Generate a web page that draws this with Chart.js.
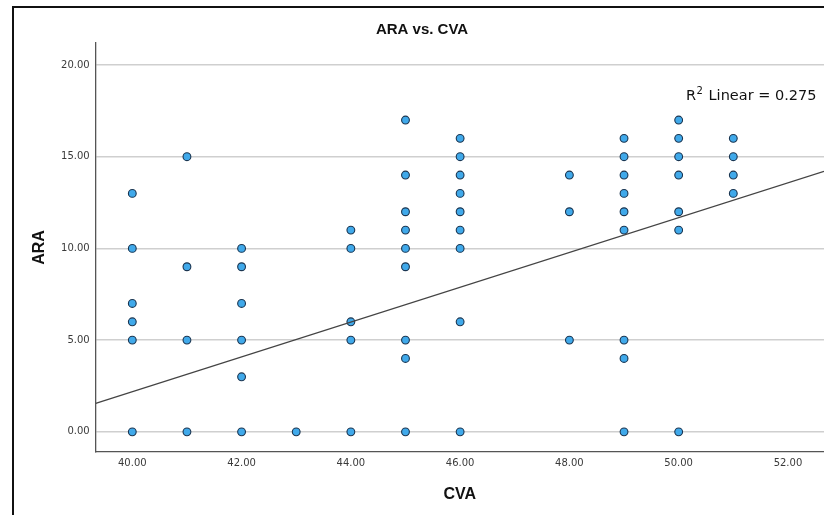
<!DOCTYPE html>
<html><head><meta charset="utf-8">
<script src="https://cdn.jsdelivr.net/npm/chart.js@4.4.1/dist/chart.umd.min.js"></script>
<style>html,body{margin:0;padding:0;background:#fff;overflow:hidden}canvas{display:block}</style>
</head><body>
<canvas id="c" width="824" height="515"></canvas>
<script>
const cvaValues = [
  40,40,40,40,40,40,
  41,41,41,41,
  42,42,42,42,42,42,
  43,
  44,44,44,44,44,
  45,45,45,45,45,45,45,45,45,
  46,46,46,46,46,46,46,46,46,
  48,48,48,
  49,49,49,49,49,49,49,49,49,
  50,50,50,50,50,50,50,
  51,51,51,51
];
const araValues = [
  0,5,6,7,10,13,
  0,5,9,15,
  0,3,5,7,9,10,
  0,
  0,5,6,10,11,
  0,4,5,9,10,11,12,14,17,
  0,6,10,11,12,13,14,15,16,
  5,12,14,
  0,4,5,11,12,13,14,15,16,
  0,11,12,14,15,16,17,
  13,14,15,16
];
const xTickValues = [40,42,44,46,48,50,52];
const yTickValues = [0,5,10,15,20];
const xRange = [39.33, 52.66];
const yRange = [-1.1, 21.2];
const fitIntercept = -35.77;
const fitSlope = 0.949;
const rSquared = 0.275;

const points = cvaValues.map((x, i) => ({x: x, y: araValues[i]}));
const fitLine = xRange.map(x => ({x: x, y: fitIntercept + fitSlope * x}));

const framePlugin = {
  id: 'frame',
  beforeDraw(chart) {
    const ctx = chart.ctx;
    ctx.save();
    ctx.strokeStyle = '#111';
    ctx.lineWidth = 2;
    ctx.strokeRect(13, 7, 1000, 1000);
    ctx.restore();
  },
  afterDraw(chart) {
    const ctx = chart.ctx;
    const a = chart.chartArea;
    ctx.save();
    ctx.fillStyle = '#111';
    ctx.textBaseline = 'alphabetic';
    ctx.textAlign = 'left';
    let x = a.right - 138;
    const y = a.top + 57;
    ctx.font = '14.5px "DejaVu Sans"';
    ctx.fillText('R', x, y);
    x += ctx.measureText('R').width + 0.5;
    ctx.font = '10px "DejaVu Sans"';
    ctx.fillText('2', x, y - 6);
    x += ctx.measureText('2').width + 1;
    ctx.font = '14.5px "DejaVu Sans"';
    ctx.fillText(' Linear = ' + rSquared.toFixed(3), x, y);
    ctx.restore();
  }
};

new Chart(document.getElementById('c'), {
  type: 'scatter',
  data: {
    datasets: [
      {
        label: 'ARA',
        data: points,
        pointRadius: 3.9,
        pointHoverRadius: 3.9,
        backgroundColor: '#40a9ea',
        borderColor: '#1b3550',
        borderWidth: 1.1,
        order: 1
      },
      {
        label: 'Fit',
        data: fitLine,
        showLine: true,
        pointRadius: 0,
        borderColor: '#444',
        borderWidth: 1.2,
        fill: false,
        order: 0
      }
    ]
  },
  options: {
    responsive: false,
    animation: false,
    devicePixelRatio: 1,
    layout: {autoPadding: false, padding: {left: 20, top: 0, right: 0, bottom: 0}},
    plugins: {
      legend: {display: false},
      tooltip: {enabled: false},
      title: {
        display: true,
        text: 'ARA vs. CVA',
        color: '#111',
        font: {family: '"Liberation Sans", Arial, sans-serif', size: 15, weight: 'bold', lineHeight: 1.2},
        padding: {top: 21, bottom: 4}
      }
    },
    scales: {
      x: {
        type: 'linear',
        min: xRange[0],
        max: xRange[1],
        afterBuildTicks(scale) { scale.ticks = xTickValues.map(v => ({value: v})); },
        afterFit(scale) { scale.height = 63; },
        grid: {display: false, drawTicks: false},
        border: {display: true, color: '#555', width: 1.3},
        ticks: {
          padding: 5,
          color: '#3a3a3a',
          font: {family: '"DejaVu Sans", sans-serif', size: 10},
          maxRotation: 0,
          callback: v => Number(v).toFixed(2)
        },
        title: {
          display: true,
          text: 'CVA',
          color: '#111',
          font: {family: '"Liberation Sans", Arial, sans-serif', size: 16, weight: 'bold', lineHeight: 1.2},
          padding: {top: 0, bottom: 11}
        }
      },
      y: {
        type: 'linear',
        min: yRange[0],
        max: yRange[1],
        afterBuildTicks(scale) { scale.ticks = yTickValues.map(v => ({value: v})); },
        afterFit(scale) { scale.width = 75.7; },
        grid: {display: true, drawTicks: false, color: '#cfcfcf', lineWidth: 1.5},
        border: {display: true, color: '#555', width: 1.3},
        ticks: {
          padding: 6,
          color: '#3a3a3a',
          font: {family: '"DejaVu Sans", sans-serif', size: 10},
          callback: v => Number(v).toFixed(2)
        },
        title: {
          display: true,
          text: 'ARA',
          color: '#111',
          font: {family: '"Liberation Sans", Arial, sans-serif', size: 16, weight: 'bold', lineHeight: 1.2},
          padding: {top: 10.4, bottom: 0}
        }
      }
    }
  },
  plugins: [framePlugin]
});
</script>
</body></html>
